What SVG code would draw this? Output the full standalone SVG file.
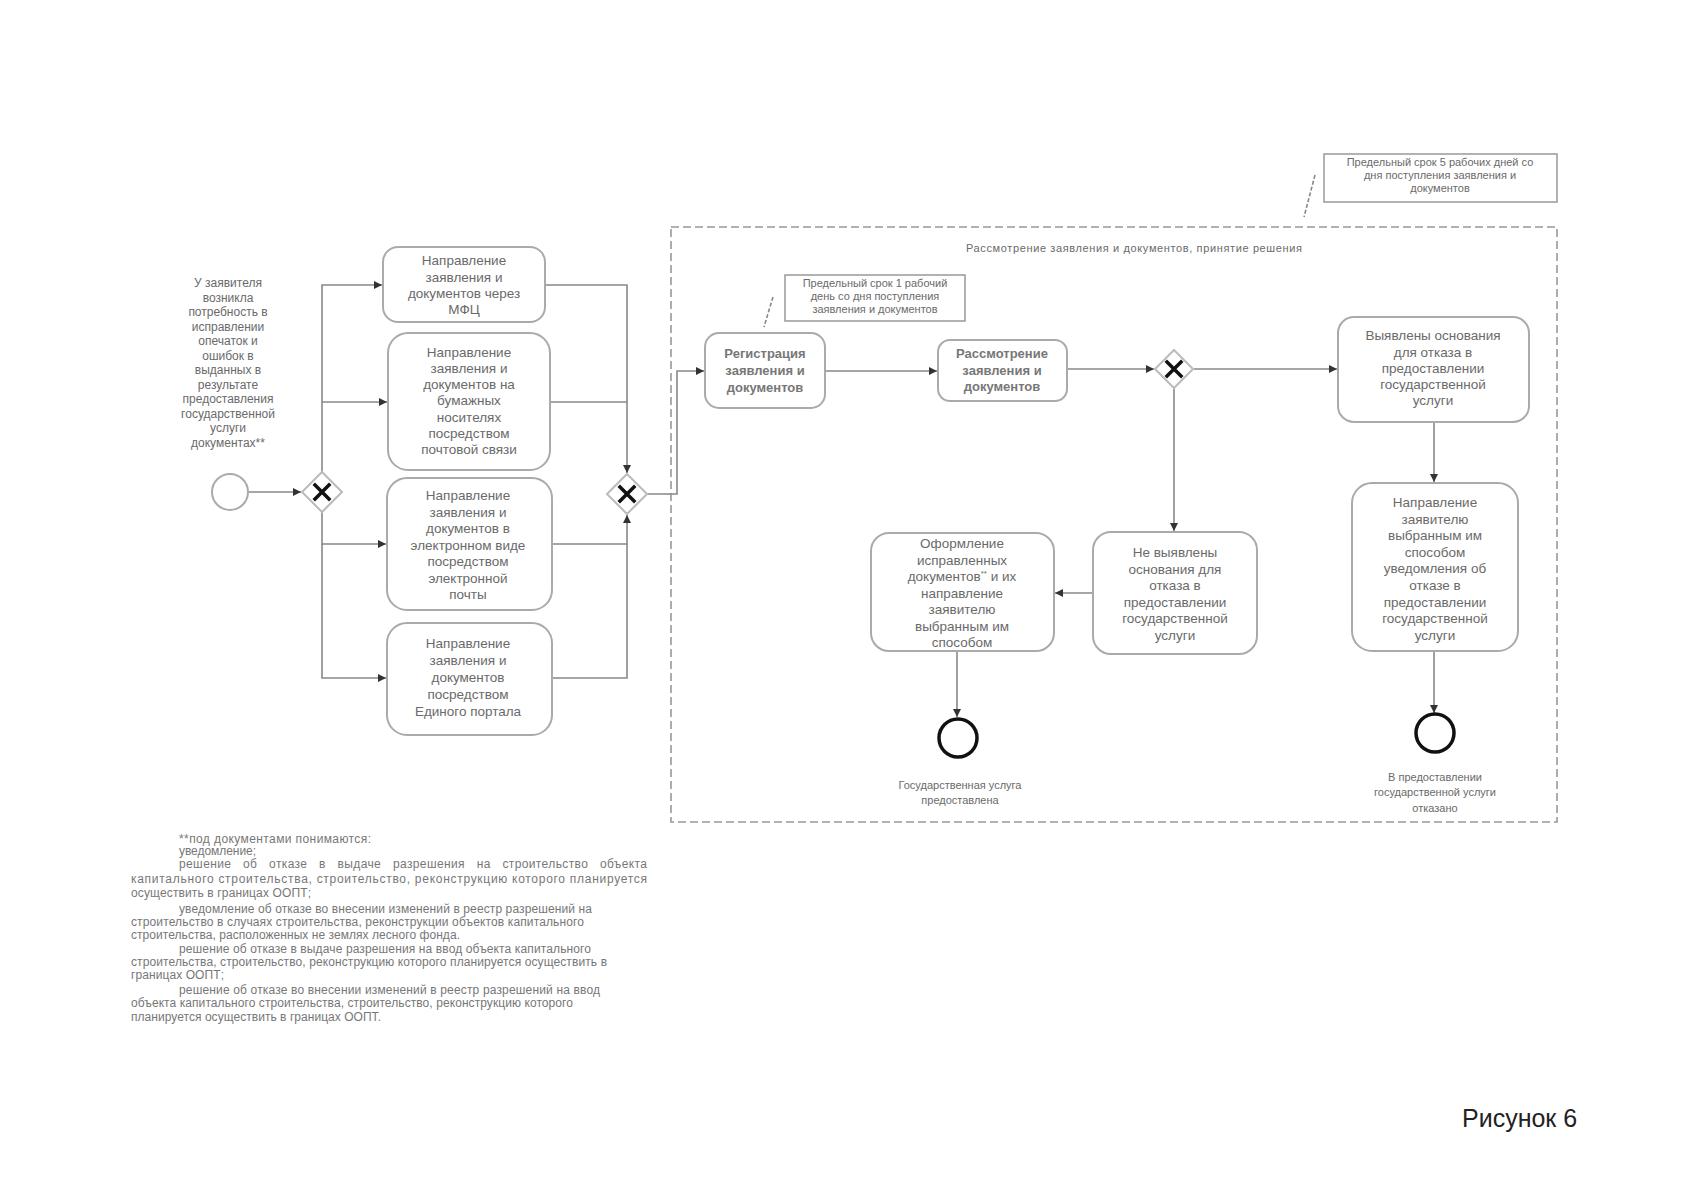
<svg xmlns="http://www.w3.org/2000/svg" width="1696" height="1200" viewBox="0 0 1696 1200">
<style>
.t{font-family:"Liberation Sans",Arial,sans-serif;fill:#6a6a6a;text-anchor:middle}
.b{font-size:13.5px}
.bb{font-size:13px;font-weight:bold;fill:#777}
.s{font-size:12px}
.n{font-size:11px}
.f{font-family:"Liberation Sans",Arial,sans-serif;font-size:12px;fill:#777}
.box{fill:#fff;stroke:#aaa;stroke-width:2}
.gw{fill:#fff;stroke:#bbb;stroke-width:2}
.x{stroke:#111;stroke-width:3.5;stroke-linecap:square}
.c{fill:none;stroke:#888;stroke-width:1.6}
.end{fill:#fff;stroke:#111;stroke-width:3.5}
.ann{fill:#fff;stroke:#999;stroke-width:1.5}
</style>
<defs>
<marker id="a" viewBox="0 0 10 10" refX="10" refY="5" markerWidth="9" markerHeight="8" markerUnits="userSpaceOnUse" orient="auto">
<path d="M0,0 L10,5 L0,10 z" fill="#333"/>
</marker>
</defs>
<rect width="1696" height="1200" fill="#fff"/>

<g id="pool">
<rect x="671" y="227" width="886" height="595" fill="none" stroke="#999" stroke-width="1.6" stroke-dasharray="8 4"/>
<text class="t n" x="1134" y="252" textLength="336" lengthAdjust="spacing">Рассмотрение заявления и документов, принятие решения</text>
</g>

<g id="connectors">
<path class="c" d="M248,492 H301" marker-end="url(#a)"/>
<path class="c" d="M322,472 V285 H382" marker-end="url(#a)"/>
<path class="c" d="M322,402 H387" marker-end="url(#a)"/>
<path class="c" d="M322,512 V544 H386" marker-end="url(#a)"/>
<path class="c" d="M322,544 V678 H386" marker-end="url(#a)"/>
<path class="c" d="M545,285 H627 V473" marker-end="url(#a)"/>
<path class="c" d="M550,402 H627"/>
<path class="c" d="M552,544 H627 V515" marker-end="url(#a)"/>
<path class="c" d="M552,678 H627 V544"/>
<path class="c" d="M647,494 H677 V371 H704" marker-end="url(#a)"/>
<path class="c" d="M825,371 H937" marker-end="url(#a)"/>
<path class="c" d="M1067,369 H1154" marker-end="url(#a)"/>
<path class="c" d="M1194,369 H1337" marker-end="url(#a)"/>
<path class="c" d="M1174,389 V531" marker-end="url(#a)"/>
<path class="c" d="M1093,593 H1055" marker-end="url(#a)"/>
<path class="c" d="M957,651 V717" marker-end="url(#a)"/>
<path class="c" d="M1434,422 V482" marker-end="url(#a)"/>
<path class="c" d="M1434,651 V713" marker-end="url(#a)"/>
<path d="M773,297 L764,327" stroke="#888" stroke-width="1.6" stroke-dasharray="4 2" fill="none"/>
<path d="M1315,175 L1304,217" stroke="#888" stroke-width="1.6" stroke-dasharray="4 2" fill="none"/>
</g>

<g id="start_text">
<text class="t s" x="228" y="287">У заявителя</text>
<text class="t s" x="228" y="301.5">возникла</text>
<text class="t s" x="228" y="316">потребность в</text>
<text class="t s" x="228" y="330.5">исправлении</text>
<text class="t s" x="228" y="345">опечаток и</text>
<text class="t s" x="228" y="359.5">ошибок в</text>
<text class="t s" x="228" y="374">выданных в</text>
<text class="t s" x="228" y="388.5">результате</text>
<text class="t s" x="228" y="403">предоставления</text>
<text class="t s" x="228" y="417.5">государственной</text>
<text class="t s" x="228" y="432">услуги</text>
<text class="t s" x="228" y="446.5">документах**</text>
</g>

<g id="start">
<circle cx="230" cy="492" r="18" fill="#fff" stroke="#aaa" stroke-width="2"/>
</g>

<g id="gw1">
<path class="gw" d="M322,472 L342,492 L322,512 L302,492 z"/>
<path class="x" d="M315,485 L329,499 M329,485 L315,499"/>
</g>

<g id="gw2">
<path class="gw" d="M627,474 L647,494 L627,514 L607,494 z"/>
<path class="x" d="M620,487 L634,501 M634,487 L620,501"/>
</g>

<g id="gw3">
<path class="gw" d="M1174,350 L1193,369 L1174,388 L1155,369 z"/>
<path class="x" d="M1167,362 L1181,376 M1181,362 L1167,376"/>
</g>

<g id="box1">
<rect class="box" x="383" y="247" width="162" height="75" rx="15"/>
<text class="t b" x="464" y="265">Направление</text>
<text class="t b" x="464" y="282">заявления и</text>
<text class="t b" x="464" y="298">документов через</text>
<text class="t b" x="464" y="314">МФЦ</text>
</g>

<g id="box2">
<rect class="box" x="388" y="333" width="162" height="137" rx="20"/>
<text class="t b" x="469" y="357">Направление</text>
<text class="t b" x="469" y="373">заявления и</text>
<text class="t b" x="469" y="389">документов на</text>
<text class="t b" x="469" y="405">бумажных</text>
<text class="t b" x="469" y="422">носителях</text>
<text class="t b" x="469" y="438">посредством</text>
<text class="t b" x="469" y="454">почтовой связи</text>
</g>

<g id="box3">
<rect class="box" x="387" y="478" width="165" height="132" rx="20"/>
<text class="t b" x="468" y="500">Направление</text>
<text class="t b" x="468" y="516.5">заявления и</text>
<text class="t b" x="468" y="533">документов в</text>
<text class="t b" x="468" y="549.5">электронном виде</text>
<text class="t b" x="468" y="566">посредством</text>
<text class="t b" x="468" y="582.5">электронной</text>
<text class="t b" x="468" y="599">почты</text>
</g>

<g id="box4">
<rect class="box" x="387" y="623" width="165" height="112" rx="20"/>
<text class="t b" x="468" y="648">Направление</text>
<text class="t b" x="468" y="665">заявления и</text>
<text class="t b" x="468" y="682">документов</text>
<text class="t b" x="468" y="699">посредством</text>
<text class="t b" x="468" y="716">Единого портала</text>
</g>

<g id="ann1">
<rect class="ann" x="785" y="275" width="180" height="46"/>
<text class="t n" x="875" y="287">Предельный срок 1 рабочий</text>
<text class="t n" x="875" y="300">день со дня поступления</text>
<text class="t n" x="875" y="313">заявления и документов</text>
</g>

<g id="ann2">
<rect class="ann" x="1324" y="154" width="233" height="48"/>
<text class="t n" x="1440" y="166">Предельный срок 5 рабочих дней со</text>
<text class="t n" x="1440" y="179">дня поступления заявления и</text>
<text class="t n" x="1440" y="192">документов</text>
</g>

<g id="reg">
<rect class="box" x="705" y="333" width="120" height="75" rx="14"/>
<text class="t bb" x="765" y="358">Регистрация</text>
<text class="t bb" x="765" y="375">заявления и</text>
<text class="t bb" x="765" y="392">документов</text>
</g>

<g id="review">
<rect class="box" x="938" y="340" width="129" height="61" rx="12"/>
<text class="t bb" x="1002" y="358">Рассмотрение</text>
<text class="t bb" x="1002" y="375">заявления и</text>
<text class="t bb" x="1002" y="391">документов</text>
</g>

<g id="found">
<rect class="box" x="1338" y="317" width="191" height="105" rx="16"/>
<text class="t b" x="1433" y="340">Выявлены основания</text>
<text class="t b" x="1433" y="357">для отказа в</text>
<text class="t b" x="1433" y="373">предоставлении</text>
<text class="t b" x="1433" y="389">государственной</text>
<text class="t b" x="1433" y="405">услуги</text>
</g>

<g id="notify">
<rect class="box" x="1352" y="483" width="166" height="168" rx="20"/>
<text class="t b" x="1435" y="507">Направление</text>
<text class="t b" x="1435" y="523.6">заявителю</text>
<text class="t b" x="1435" y="540.2">выбранным им</text>
<text class="t b" x="1435" y="556.8">способом</text>
<text class="t b" x="1435" y="573.4">уведомления об</text>
<text class="t b" x="1435" y="590">отказе в</text>
<text class="t b" x="1435" y="606.6">предоставлении</text>
<text class="t b" x="1435" y="623.2">государственной</text>
<text class="t b" x="1435" y="639.8">услуги</text>
</g>

<g id="notfound">
<rect class="box" x="1093" y="532" width="164" height="122" rx="18"/>
<text class="t b" x="1175" y="557">Не выявлены</text>
<text class="t b" x="1175" y="573.6">основания для</text>
<text class="t b" x="1175" y="590.2">отказа в</text>
<text class="t b" x="1175" y="606.8">предоставлении</text>
<text class="t b" x="1175" y="623.4">государственной</text>
<text class="t b" x="1175" y="640">услуги</text>
</g>

<g id="issue">
<rect class="box" x="871" y="533" width="183" height="118" rx="18"/>
<text class="t b" x="962" y="548">Оформление</text>
<text class="t b" x="962" y="564.5">исправленных</text>
<text class="t b" x="962" y="581">документов<tspan font-size="8" dy="-5">**</tspan><tspan dy="5"> и их</tspan></text>
<text class="t b" x="962" y="597.5">направление</text>
<text class="t b" x="962" y="614">заявителю</text>
<text class="t b" x="962" y="630.5">выбранным им</text>
<text class="t b" x="962" y="647">способом</text>
</g>

<g id="end1">
<circle class="end" cx="958" cy="738" r="19"/>
<text class="t n" x="960" y="789">Государственная услуга</text>
<text class="t n" x="960" y="804">предоставлена</text>
</g>

<g id="end2">
<circle class="end" cx="1435" cy="733" r="19"/>
<text class="t n" x="1435" y="781">В предоставлении</text>
<text class="t n" x="1435" y="796">государственной услуги</text>
<text class="t n" x="1435" y="812">отказано</text>
</g>

<g id="footnote">
<text class="f" x="179" y="843" textLength="192" lengthAdjust="spacing">**под документами понимаются:</text>
<text class="f" x="179" y="855" textLength="77" lengthAdjust="spacing">уведомление;</text>
<text class="f" x="179" y="868" textLength="468" lengthAdjust="spacing" word-spacing="8">решение об отказе в выдаче разрешения на строительство объекта</text>
<text class="f" x="131" y="883" textLength="516" lengthAdjust="spacing">капитального строительства, строительство, реконструкцию которого планируется</text>
<text class="f" x="131" y="897" textLength="180" lengthAdjust="spacing">осуществить в границах ООПТ;</text>
<text class="f" x="179" y="913" textLength="413" lengthAdjust="spacing">уведомление об отказе во внесении изменений в реестр разрешений на</text>
<text class="f" x="131" y="926" textLength="453" lengthAdjust="spacing">строительство в случаях строительства, реконструкции объектов капитального</text>
<text class="f" x="131" y="939" textLength="329" lengthAdjust="spacing">строительства, расположенных не землях лесного фонда.</text>
<text class="f" x="179" y="953" textLength="412" lengthAdjust="spacing">решение об отказе в выдаче разрешения на ввод объекта капитального</text>
<text class="f" x="131" y="966" textLength="476" lengthAdjust="spacing">строительства, строительство, реконструкцию которого планируется осуществить в</text>
<text class="f" x="131" y="979" textLength="93" lengthAdjust="spacing">границах ООПТ;</text>
<text class="f" x="179" y="994" textLength="421" lengthAdjust="spacing">решение об отказе во внесении изменений в реестр разрешений на ввод</text>
<text class="f" x="131" y="1007" textLength="442" lengthAdjust="spacing">объекта капитального строительства, строительство, реконструкцию которого</text>
<text class="f" x="131" y="1021" textLength="250" lengthAdjust="spacing">планируется осуществить в границах ООПТ.</text>
</g>

<g id="caption">
<text x="1462" y="1127" font-family="Liberation Sans,Arial,sans-serif" font-size="25" fill="#222">Рисунок 6</text>
</g>
</svg>
